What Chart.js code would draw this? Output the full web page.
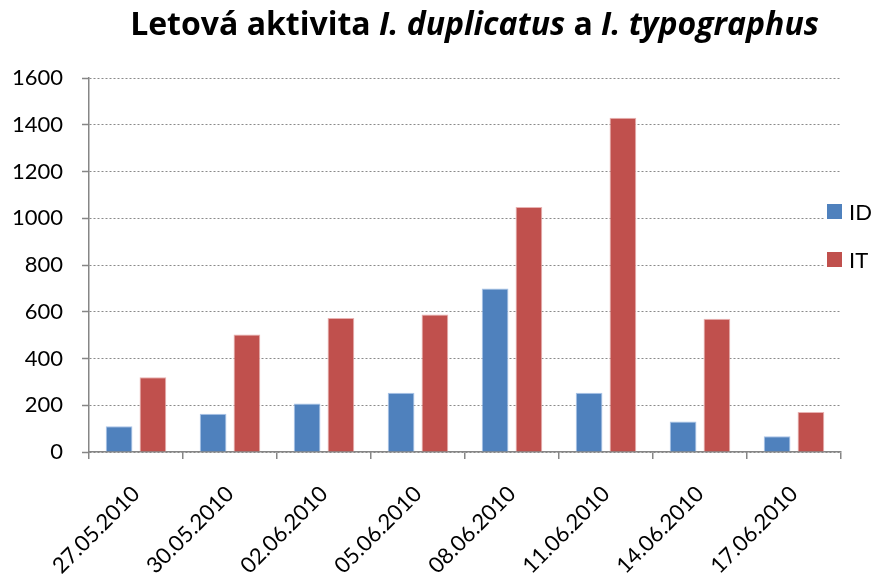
<!DOCTYPE html>
<html><head><meta charset="utf-8">
<script src="https://cdn.jsdelivr.net/npm/chart.js@4/dist/chart.umd.min.js"></script>
<style>html,body{margin:0;padding:0;background:#fff}#wrap{position:relative;width:874px;height:578px}</style>
</head><body><div id="wrap"><canvas id="c" width="874" height="578"></canvas></div>
<script>
const categories = ["27.05.2010","30.05.2010","02.06.2010","05.06.2010","08.06.2010","11.06.2010","14.06.2010","17.06.2010"];
const seriesNames = ["ID","IT"];
const valuesID = [110,164,207,254,700,254,131,67];
const valuesIT = [320,503,573,588,1048,1430,570,171];
const yTickValues = [0,200,400,600,800,1000,1200,1400,1600];
const titleParts = [["Letová aktivita ", false],["I. duplicatus", true],[" a ", false],["I. typographus", true]];

const FONT = "Lato, 'Open Sans', sans-serif";
const TITLE_FONT = "'Open Sans', Lato, sans-serif";
const BLUE = "#4F81BD", RED = "#C0504D";

const titlePlugin = {
  id: "mixedTitle",
  afterDraw(chart) {
    const ctx = chart.ctx;
    ctx.save();
    const fontFor = (it, size) => (it ? "italic " : "") + "bold " + size + "px " + TITLE_FONT;
    const widthAt = size => { let t = 0; titleParts.forEach(p => { ctx.font = fontFor(p[1], size); t += ctx.measureText(p[0]).width; }); return t; };
    const targetW = 691;
    const size = Math.min(32, 30 * targetW / widthAt(30));
    const total = widthAt(size);
    let x = 474.5 - total / 2;
    ctx.fillStyle = "#000";
    ctx.textBaseline = "alphabetic";
    ctx.textAlign = "left";
    titleParts.forEach(p => { ctx.font = fontFor(p[1], size); ctx.fillText(p[0], x, 35); x += ctx.measureText(p[0]).width; });
    ctx.restore();
  }
};

const legendPlugin = {
  id: "sideLegend",
  afterDraw(chart) {
    const ctx = chart.ctx;
    ctx.save();
    ctx.fillStyle = "#fff";
    ctx.fillRect(825, 198, 49, 76);
    chart.data.datasets.forEach((ds, i) => {
      const cy = 211.5 + i * 48;
      ctx.fillStyle = ds.backgroundColor;
      ctx.fillRect(827, cy - 7.5, 15, 15);
      ctx.fillStyle = "#000";
      ctx.font = "22px " + FONT;
      ctx.textBaseline = "middle";
      ctx.textAlign = "left";
      ctx.fillText(ds.label, 849, cy + 1);
    });
    ctx.restore();
  }
};

new Chart(document.getElementById("c"), {
  type: "bar",
  data: {
    labels: categories,
    datasets: [
      { label: seriesNames[0], data: valuesID, backgroundColor: BLUE, borderColor: "rgba(160,190,230,0.9)", borderWidth: 1, categoryPercentage: 0.72, barPercentage: 0.79 },
      { label: seriesNames[1], data: valuesIT, backgroundColor: RED, borderColor: "rgba(230,170,170,0.9)", borderWidth: 1, categoryPercentage: 0.72, barPercentage: 0.79 }
    ]
  },
  options: {
    responsive: false,
    animation: false,
    devicePixelRatio: 1,
    layout: { padding: { top: 78, right: 33, left: 0, bottom: 0 } },
    plugins: { legend: { display: false }, title: { display: false }, tooltip: { enabled: false } },
    scales: {
      x: {
        offset: true,
        grid: { drawOnChartArea: false, drawTicks: true, tickLength: 7, color: "#868686", offset: true, lineWidth: 1.5 },
        border: { color: "#868686", width: 1.5 },
        ticks: { minRotation: 45, maxRotation: 45, autoSkip: false, padding: 22, color: "#000", font: { family: FONT, size: 22 } },
        afterFit(s) { s.height = 126; }
      },
      y: {
        min: 0, max: 1600,
        afterBuildTicks(s) { s.ticks = yTickValues.map(v => ({ value: v })); },
        grid: { color: "#8a8a8a", lineWidth: 1, drawTicks: true, tickLength: 7, tickColor: "#868686", tickBorderDash: [], tickWidth: 1.5 },
        border: { color: "#868686", width: 1.5, dash: [2, 2] },
        ticks: { padding: 19, color: "#000", font: { family: FONT, size: 22 }, callback: v => String(v) },
        afterFit(s) { s.width = 89; }
      }
    }
  },
  plugins: [titlePlugin, legendPlugin]
});
</script></body></html>
